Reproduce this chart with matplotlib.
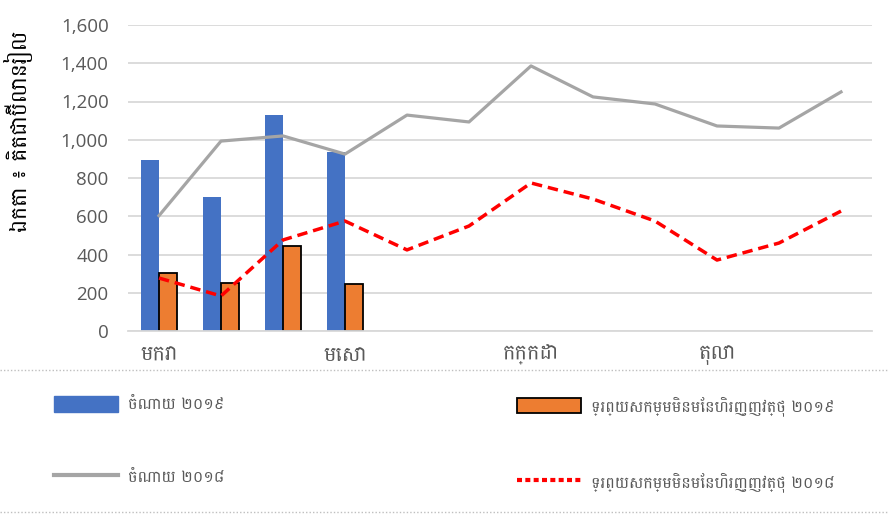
import matplotlib
matplotlib.use("Agg")
import matplotlib.pyplot as plt
from matplotlib.lines import Line2D
from matplotlib.patches import Patch
from matplotlib.textpath import TextPath
from matplotlib.font_manager import FontProperties
import numpy as np

# ---------------- data ----------------
months = ["មករា", "កុម្ភៈ", "មីនា", "មេសា", "ឧសភា", "មិថុនា",
          "កក្កដា", "សីហា", "កញ្ញា", "តុលា", "វិច្ឆិកា", "ធ្នូ"]
exp_2019 = [894, 702, 1130, 936]
nfa_2019 = [305, 253, 446, 244]
exp_2018 = [603, 993, 1020, 925, 1129, 1093, 1386, 1224, 1187, 1072, 1061, 1250]
nfa_2018 = [277, 183, 476, 575, 424, 549, 774, 690, 575, 371, 460, 627]
yticks = [0, 200, 400, 600, 800, 1000, 1200, 1400, 1600]
ylabel = "ឯកតា ៖ គិតជាប៊ីលានរៀល"
labels = ["ចំណាយ ២០១៩", "ទ្រព្យសកម្មមិនមែនហិរញ្ញវត្ថុ ២០១៩",
          "ចំណាយ ២០១៨", "ទ្រព្យសកម្មមិនមែនហិរញ្ញវត្ថុ ២០១៨"]

KH = ["Battambang", "Open Sans", "DejaVu Sans"]
plt.rcParams["font.family"] = KH

TXT = "#595959"
BLUE = "#4472C4"
ORANGE = "#ED7D31"
GRAY = "#A5A5A5"
RED = "#FF0000"


def fit_size(text, target_px, base=12.0):
    """font size (pt) so that text is about target_px wide at 100 dpi"""
    tp = TextPath((0, 0), text, size=base, prop=FontProperties(family=KH))
    wpt = tp.get_extents().width
    wpx = wpt * 100 / 72
    return base * target_px / wpx if wpx > 0 else base


leg_fs = min(fit_size(labels[0], 122), fit_size(labels[1], 242))
mon_fs = leg_fs * 1.3
ylab_fs = fit_size(ylabel, 200)

fig = plt.figure(figsize=(8.88, 5.15), dpi=100)
ax = fig.add_axes([128/888, 1-331/515, 744/888, 306/515])

x = np.arange(len(months))
w = 0.285
xb = x[:len(exp_2019)]
ax.bar(xb - w/2, exp_2019, width=w, color=BLUE, zorder=2)
ax.bar(xb + w/2, nfa_2019, width=w, color=ORANGE, edgecolor="black", linewidth=1.3, zorder=2)
ax.plot(x, exp_2018, color=GRAY, linewidth=2.3, zorder=3, solid_joinstyle="round")
ax.plot(x, nfa_2018, color=RED, linewidth=2.5, linestyle=(0, (3, 1.7)), zorder=3)

ax.set_xlim(-0.5, len(months) - 0.5)
ax.set_ylim(0, 1600)
ax.set_yticks(yticks)
ax.set_yticklabels([f"{v:,}" for v in yticks], family=["Open Sans", "DejaVu Sans"])
ax.set_xticks(x[::3])
ax.set_xticklabels(months[::3])
ax.tick_params(axis="y", length=0, labelsize=13.5, labelcolor=TXT, pad=14)
ax.tick_params(axis="x", length=0, labelsize=mon_fs, labelcolor=TXT, pad=10)
ax.grid(axis="y", color="#D9D9D9", linewidth=1.3, zorder=0)
ax.set_axisbelow(True)
for s in ["top", "right", "left"]:
    ax.spines[s].set_visible(False)
ax.spines["bottom"].set_color("#D9D9D9")
ax.spines["bottom"].set_linewidth(1.3)
ax.set_ylabel(ylabel, fontsize=ylab_fs, color="#000000")
ax.yaxis.set_label_coords(-95/744, 1 - (131 - 25)/306)

# separators
for yy in [370, 512]:
    fig.add_artist(Line2D([0, 1], [1-yy/515, 1-yy/515], color="#BFBFBF",
                          linewidth=1, linestyle=(0, (1, 1.5))))

h1 = Patch(facecolor=BLUE, edgecolor=BLUE)
h2 = Patch(facecolor=ORANGE, edgecolor="black", linewidth=1.3)
h3 = Line2D([], [], color=GRAY, linewidth=3)
h4 = Line2D([], [], color=RED, linewidth=3, linestyle=(0, (1.2, 0.8)))

px = leg_fs * 100 / 72
common = dict(frameon=False, fontsize=leg_fs, handlelength=64/px, handleheight=18/px,
              handletextpad=10/px, labelspacing=(77 - 1.3*px)/px, labelcolor=TXT,
              loc="upper left", borderaxespad=0, borderpad=0)
fig.legend([h1, h3], [labels[0], labels[2]],
           bbox_to_anchor=(54/888, 1-396/515), **common)
fig.legend([h2, h4], [labels[1], labels[3]],
           bbox_to_anchor=(517/888, 1-396/515), **common)

fig.savefig("out.png", dpi=100)
